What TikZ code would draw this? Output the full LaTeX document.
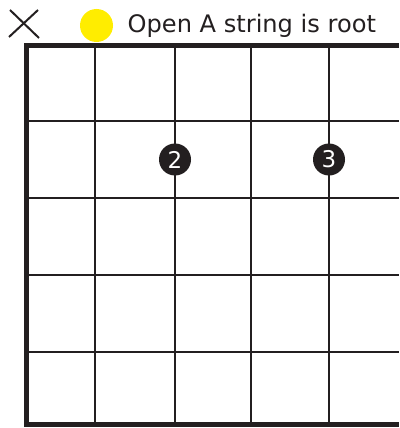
\documentclass[tikz,border=0pt]{standalone}
\usepackage{fontspec}
\setmainfont{DejaVu Sans}
\usetikzlibrary{positioning}
\definecolor{ink}{HTML}{231F20}
\definecolor{rootyellow}{HTML}{FFED00}
\tikzset{
  fret/.style={ink, line width=2.7pt},
  frame/.style={ink, line width=5pt, line join=miter},
  finger/.style={circle, fill=ink, text=white, minimum size=32pt, inner sep=0pt,
    font=\fontsize{23}{23}\selectfont},
}

\begin{document}
\begin{tikzpicture}[x=1pt, y=-1pt]
\useasboundingbox (0,0) rectangle (399,428);

% 品格横线与弦线
\foreach \y in {121,198,275,352} {
    \draw[fret] (26.5,\y) -- (399,\y);
}
\foreach \x in {95,175,251,329} {
    \draw[fret] (\x,45.5) -- (\x,424);
}

% 外框（右侧不封口）
\draw[frame] (399,45.5) -- (26.5,45.5) -- (26.5,424) -- (399,424);

% 空弦不弹
\draw[ink, line width=2pt] (10,10) -- (39,38);
\draw[ink, line width=2pt] (38,10) -- (9,37);

% 根音标记与说明
\node[circle, fill=rootyellow, minimum size=33pt, inner sep=0pt] (root) at (96.5,25.5) {};
\node[ink, anchor=base west, inner sep=0pt, font=\fontsize{24.1}{28}\selectfont] (rootnote) at (127.5,33) {Open A string is root};

% 指法
\node[finger] (two) at (175,159.5) {2};
\node[finger] (three) at (329,159.5) {3};

\end{tikzpicture}
\end{document}
